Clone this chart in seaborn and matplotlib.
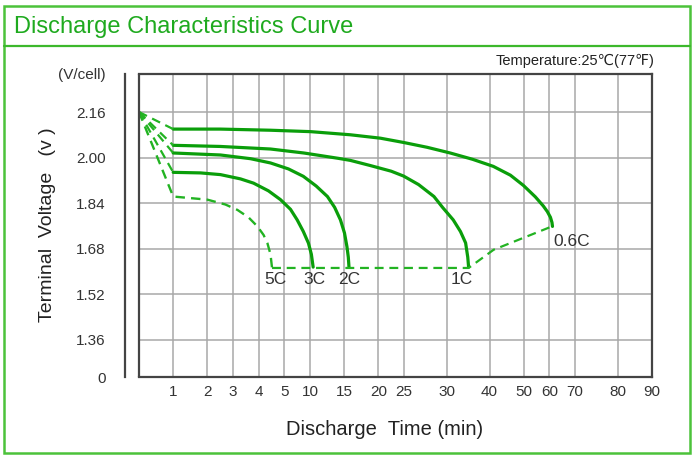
import numpy as np
import pandas as pd
import matplotlib
matplotlib.use('Agg')
import matplotlib.pyplot as plt
from matplotlib.patches import Rectangle
from matplotlib.lines import Line2D
import seaborn as sns

# tick layout of the time axis (min) and voltage axis (V/cell)
x_ticks = [1, 2, 3, 4, 5, 10, 15, 20, 25, 30, 40, 50, 60, 70, 80, 90]
x_units = [0, 4, 8, 11, 14, 17, 20, 24, 28, 31, 36, 41, 45, 48, 51, 56, 60]
y_ticks = [0, 1.36, 1.52, 1.68, 1.84, 2.00, 2.16]
y_labels = ['0', '1.36', '1.52', '1.68', '1.84', '2.00', '2.16']

# discharge curves
t_06c = [1, 2.5, 4.46, 10.1, 15.9, 20.4, 24.9, 27.7, 30.8, 36.0, 41.1, 46.1, 49.9,
         54.5, 57.6, 59.2, 60.4, 61.0, 61.2]
v_06c = [2.100, 2.100, 2.096, 2.091, 2.080, 2.068, 2.053, 2.036, 2.016, 1.994, 1.969,
         1.938, 1.902, 1.862, 1.830, 1.810, 1.790, 1.772, 1.758]
t_1c = [1, 2.5, 4.46, 8.8, 14.2, 15.9, 18.8, 22.5, 24.9, 26.7, 28.5, 29.5, 31.5,
        33.2, 34.4, 34.9, 35.1]
v_1c = [2.043, 2.039, 2.030, 2.016, 1.997, 1.990, 1.972, 1.952, 1.935, 1.905, 1.863,
        1.825, 1.781, 1.740, 1.700, 1.650, 1.615]
t_2c = [1, 2.51, 3.68, 4.46, 5.8, 8.7, 10.9, 12.55, 13.6, 14.45, 15.04, 15.4, 15.6, 15.7]
v_2c = [2.016, 2.009, 1.996, 1.981, 1.960, 1.934, 1.900, 1.863, 1.825, 1.781, 1.735,
        1.687, 1.650, 1.615]
t_3c = [1, 1.8, 2.51, 3.29, 3.8, 4.38, 4.85, 6.2, 7.5, 8.7, 9.7, 10.2, 10.46]
v_3c = [1.948, 1.946, 1.940, 1.925, 1.910, 1.883, 1.852, 1.818, 1.781, 1.740, 1.699,
        1.660, 1.615]
t_5c = [1, 2.0, 2.7, 3.17, 3.6, 3.95, 4.19, 4.34, 4.46, 4.52]
v_5c = [1.863, 1.852, 1.835, 1.816, 1.790, 1.758, 1.728, 1.699, 1.660, 1.612]
t_cut = [4.52, 35.1, 41.2, 61.0]
v_cut = [1.612, 1.612, 1.676, 1.758]
start_t, start_v = 0, 2.16

rates = ['0.6C', '1C', '2C', '3C', '5C']
label_t = [68.6, 33.4, 15.7, 10.6, 4.65]
label_v = [1.705, 1.570, 1.570, 1.570, 1.570]

# piecewise scales (the chart's axes are not linear)
xt = [-1000] + [0] + x_ticks + [1000]
xu = [-4000] + x_units + [60 + 910 * 0.4]


def x_fwd(t):
    return np.interp(t, xt, xu)


def x_inv(u):
    return np.interp(u, xu, xt)


def y_fwd(v):
    v = np.asarray(v, dtype=float)
    return np.where(v < 1.36, (v - 1.36) * 0.82 / 1.36, (v - 1.36) / 0.16)


def y_inv(p):
    p = np.asarray(p, dtype=float)
    return np.where(p < 0, 1.36 + p * 1.36 / 0.82, 1.36 + p * 0.16)


y_top = 1.36 + 5.835 * 0.16

sns.set_style('white')
plt.rcParams['font.family'] = ['Liberation Sans', 'DejaVu Sans']

W, H = 693, 461
fig = plt.figure(figsize=(W / 100, H / 100), dpi=100)
ax = fig.add_axes([139 / W, 1 - 377 / H, 513 / W, 303 / H])
ax.set_xscale('function', functions=(x_fwd, x_inv))
ax.set_yscale('function', functions=(y_fwd, y_inv))
ax.set_xlim(0, 90)
ax.set_ylim(0, y_top)

green = '#0a9e0a'
dgreen = '#22b322'
dash = (4, 2.6)

curves = [(t_06c, v_06c), (t_1c, v_1c), (t_2c, v_2c), (t_3c, v_3c)]
for t, v in curves:
    sns.lineplot(x=t, y=v, ax=ax, color=green, lw=2.3, sort=False, estimator=None)
    sns.lineplot(x=[start_t, t[0]], y=[start_v, v[0]], ax=ax, color=dgreen,
                 lw=1.6, sort=False, estimator=None).lines[-1].set_dashes(dash)

sns.lineplot(x=[start_t] + t_5c, y=[start_v] + v_5c, ax=ax, color=dgreen, lw=1.7,
             sort=False, estimator=None).lines[-1].set_dashes(dash)
sns.lineplot(x=t_cut, y=v_cut, ax=ax, color=dgreen, lw=1.6,
             sort=False, estimator=None).lines[-1].set_dashes(dash)

for r, lt, lv in zip(rates, label_t, label_v):
    ax.text(lt, lv, r, ha='center', va='center', fontsize=12.5, color='#333333')

# grid and frame
ax.set_xticks(x_ticks)
ax.set_xticklabels([str(x) for x in x_ticks])
ax.set_yticks(y_ticks + [y_top])
ax.set_yticklabels(y_labels + ['(V/cell)'])
ax.grid(True, color='#a8a8a8', lw=1.1)
ax.set_axisbelow(True)
ax.tick_params(axis='x', length=0, pad=6, labelsize=11, labelcolor='#333333')
ax.tick_params(axis='y', length=9, width=1.5, color='#444444', pad=5,
               labelsize=11, labelcolor='#333333')
for s in ['top', 'right', 'bottom']:
    ax.spines[s].set_color('#444444')
    ax.spines[s].set_linewidth(1.6)
ax.spines['left'].set_position(('outward', 10))
ax.spines['left'].set_color('#444444')
ax.spines['left'].set_linewidth(1.6)
ax.add_line(Line2D([0, 0], [0, 1], transform=ax.transAxes, color='#444444',
                   lw=1.6, clip_on=False))

ax.set_xlabel('Discharge  Time (min)', fontsize=14.5, color='#222222', va='center')
ax.xaxis.set_label_coords((385 - 139) / 513, (377 - 429) / 303)
ax.set_ylabel('Terminal  Voltage   (v )', fontsize=14, color='#222222', va='center')
ax.yaxis.set_label_coords((48 - 139) / 513, (377 - 225) / 303)

# title box and outer border
fig.add_artist(Rectangle((4 / W, 1 - 453 / H), 686 / W, 447 / H, transform=fig.transFigure,
                         fill=False, ec='#4cc23a', lw=1.8))
fig.add_artist(Line2D([4 / W, 690 / W], [1 - 46 / H, 1 - 46 / H], transform=fig.transFigure,
                      color='#3cb82c', lw=1.6))
fig.text(14 / W, 1 - 27 / H, 'Discharge Characteristics Curve', fontsize=17,
         color='#1faa1f', va='center', ha='left')
fig.text(655 / W, 1 - 61 / H, 'Temperature:25℃(77℉)', fontsize=10.5,
         color='#222222', va='center', ha='right')

fig.savefig('out.png', dpi=100)
